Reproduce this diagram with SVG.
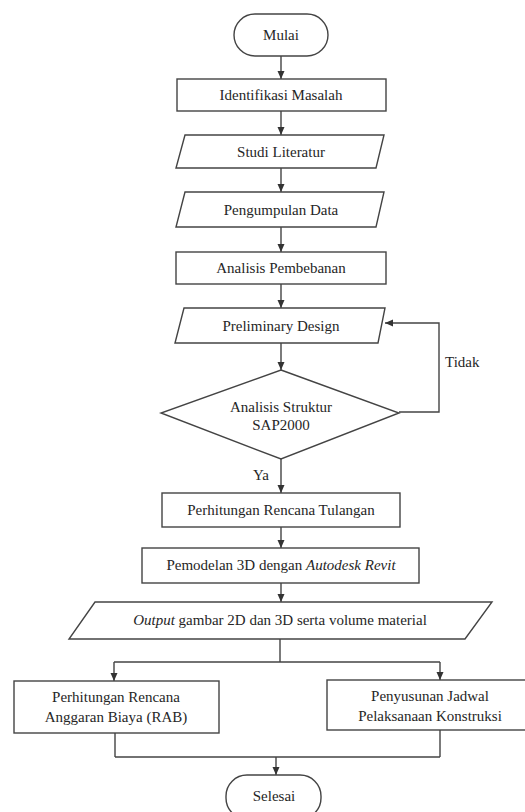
<svg xmlns="http://www.w3.org/2000/svg" width="525" height="812" viewBox="0 0 525 812" font-family="'Liberation Serif', 'Times New Roman', Tinos, 'DejaVu Serif', serif">
<defs>
<marker id="arr" viewBox="0 0 8 8" refX="8" refY="4" markerWidth="8" markerHeight="8" markerUnits="userSpaceOnUse" orient="auto">
<path d="M0,0.5 L8,4 L0,7.5 Z" fill="#333"/>
</marker>
<style>
.s{fill:#fff;stroke:#444;stroke-width:1.4}
.c{fill:none;stroke:#444;stroke-width:1.4}
.t{font-family:'Liberation Serif','Times New Roman',Tinos,'DejaVu Serif',serif;font-size:15px;fill:#262626;text-anchor:middle}
.i{font-style:italic}
</style>
</defs>
<rect width="525" height="812" fill="#fff"/>
<g id="connectors">
<path class="c" marker-end="url(#arr)" d="M281,56 V79"/>
<path class="c" marker-end="url(#arr)" d="M281,111 V135"/>
<path class="c" marker-end="url(#arr)" d="M281,168 V192"/>
<path class="c" marker-end="url(#arr)" d="M281,227 V252"/>
<path class="c" marker-end="url(#arr)" d="M281,284 V308"/>
<path class="c" marker-end="url(#arr)" d="M281,343 V370"/>
<path class="c" marker-end="url(#arr)" d="M281,459 V493"/>
<path class="c" marker-end="url(#arr)" d="M281,527 V548"/>
<path class="c" marker-end="url(#arr)" d="M281,583 V602"/>
<path class="c" marker-end="url(#arr)" d="M399,412 H439 V323 H385"/>
<path class="c" d="M280,639 V662 M114,662 H440"/>
<path class="c" marker-end="url(#arr)" d="M114,662 V681"/>
<path class="c" marker-end="url(#arr)" d="M440,662 V680"/>
<path class="c" d="M115,733 V757 M440,730 V757 M115,757 H440"/>
<path class="c" marker-end="url(#arr)" d="M276,757 V775"/>
<text class="t" x="445" y="367" style="text-anchor:start">Tidak</text>
<text class="t" x="261" y="480">Ya</text>
</g>
<g id="mulai"><rect class="s" x="234" y="14" width="94" height="42" rx="21"/><text class="t" x="281" y="40">Mulai</text></g>
<g id="identifikasi"><rect class="s" x="177" y="79" width="209" height="32"/><text class="t" x="281" y="100">Identifikasi Masalah</text></g>
<g id="studi"><polygon class="s" points="185,135 384,135 376,168 176,168"/><text class="t" x="281" y="157">Studi Literatur</text></g>
<g id="pengumpulan"><polygon class="s" points="185,192 384,192 376,227 176,227"/><text class="t" x="281" y="215">Pengumpulan Data</text></g>
<g id="pembebanan"><rect class="s" x="176" y="252" width="210" height="32"/><text class="t" x="281" y="273">Analisis Pembebanan</text></g>
<g id="preliminary"><polygon class="s" points="184,308 385,308 378,343 175,343"/><text class="t" x="281" y="331">Preliminary Design</text></g>
<g id="analisis"><polygon class="s" points="281,370 399,413 281,459 161,413"/><text class="t" x="281" y="412">Analisis Struktur</text><text class="t" x="281" y="430">SAP2000</text></g>
<g id="tulangan"><rect class="s" x="162" y="493" width="238" height="34"/><text class="t" x="281" y="515">Perhitungan Rencana Tulangan</text></g>
<g id="pemodelan"><rect class="s" x="142" y="548" width="277" height="35"/><text class="t" x="281" y="570">Pemodelan 3D dengan <tspan class="i">Autodesk Revit</tspan></text></g>
<g id="output"><polygon class="s" points="95,602 492,602 465,639 69,639"/><text class="t" x="280" y="625"><tspan class="i">Output</tspan> gambar 2D dan 3D serta volume material</text></g>
<g id="rab"><rect class="s" x="14" y="681" width="205" height="52"/><text class="t" x="116" y="702">Perhitungan Rencana</text><text class="t" x="116" y="722">Anggaran Biaya (RAB)</text></g>
<g id="jadwal"><rect class="s" x="327" y="680" width="205" height="50"/><text class="t" x="430" y="701">Penyusunan Jadwal</text><text class="t" x="430" y="721">Pelaksanaan Konstruksi</text></g>
<g id="selesai"><rect class="s" x="226" y="775" width="95" height="44" rx="21"/><text class="t" x="274" y="801">Selesai</text></g>
</svg>
